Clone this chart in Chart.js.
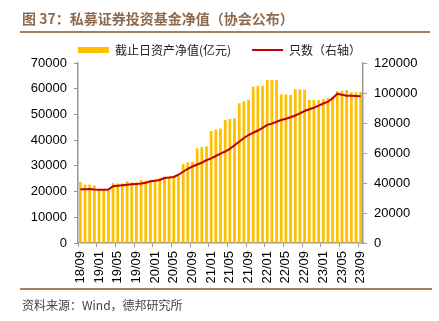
<!DOCTYPE html>
<html>
<head>
<meta charset="utf-8">
<script src="https://cdn.jsdelivr.net/npm/chart.js@4"></script>
<style>
  body { margin: 0; background: #fff; }
  #wrap { position: relative; width: 439px; height: 321px; overflow: hidden; }
  #c { position: absolute; left: 0; top: 0; }
  .title { position: absolute; left: 22px; top: 10px; font: bold 14px/17px "Noto Sans CJK SC", sans-serif; color: #8e6a4e; white-space: nowrap; }
  .rule { position: absolute; left: 20px; height: 2px; background: #a97e5a; }
  .source { position: absolute; left: 22px; top: 298px; font: 12px/14px "Noto Sans CJK SC", sans-serif; color: #444; white-space: nowrap; }
</style>
</head>
<body>
<div id="wrap">
  <canvas id="c" width="439" height="321"></canvas>
  <div class="title">图 37：私募证券投资基金净值（协会公布）</div>
  <div class="rule" style="top:31px;width:410px"></div>
  <div class="rule" style="top:288px;width:412px"></div>
  <div class="source">资料来源：Wind，德邦研究所</div>
</div>
<script>
// =========================
// DATA
// =========================
const months = [
  "18/09","18/10","18/11","18/12",
  "19/01","19/02","19/03","19/04","19/05","19/06","19/07","19/08","19/09","19/10","19/11","19/12",
  "20/01","20/02","20/03","20/04","20/05","20/06","20/07","20/08","20/09","20/10","20/11","20/12",
  "21/01","21/02","21/03","21/04","21/05","21/06","21/07","21/08","21/09","21/10","21/11","21/12",
  "22/01","22/02","22/03","22/04","22/05","22/06","22/07","22/08","22/09","22/10","22/11","22/12",
  "23/01","23/02","23/03","23/04","23/05","23/06","23/07","23/08","23/09"
];

// 截止日资产净值(亿元)
const netAsset = [
  23700, 22700, 22700, 22400,
  20800, 20700, 20800, 23300, 23200, 23200, 24000, 23500, 23500, 24500, 24300, 24300,
  24800, 25300, 25800, 25800, 25800, 26300, 30700, 31400, 31600, 36800, 37300, 37600,
  43600, 44100, 44500, 47800, 48200, 48500, 54300, 55100, 55700, 60800, 61100, 61200,
  63400, 63400, 63400, 57800, 57800, 57600, 59800, 59800, 59600, 55600, 55600, 55600,
  56000, 56300, 56900, 59100, 59200, 59500, 58600, 58600, 58700
];

// 只数（右轴）
const fundCount = [
  35900, 35900, 36000, 35700,
  35500, 35500, 35600, 37800, 38200, 38500, 38800, 39100, 39400, 39700, 40200, 41100,
  41500, 42000, 43300, 43600, 44000, 45500, 47500, 49500, 51000, 52300, 53500, 55200,
  56400, 58000, 59600, 61000, 62800, 65200, 67500, 70000, 72000, 73500, 75000, 76800,
  78700, 79600, 80800, 82000, 82800, 83800, 85000, 86400, 88000, 89200, 90200, 91600,
  93000, 94200, 96500, 99500, 98800, 98200, 98200, 98000, 97800
];

const leftTicks = { min: 0, max: 70000, step: 10000 };
const rightTicks = { min: 0, max: 120000, step: 20000 };

// =========================
// CHART
// =========================
Chart.defaults.font.family = "'Liberation Sans', Arial, sans-serif";
Chart.defaults.color = "#000";

const axisGrey = "#999";
const plain = v => String(v);

new Chart(document.getElementById("c"), {
  type: "bar",
  data: {
    labels: months,
    datasets: [
      {
        label: "截止日资产净值(亿元)",
        data: netAsset,
        backgroundColor: "#FFC000",
        borderWidth: 0,
        categoryPercentage: 1,
        barPercentage: 0.6,
        yAxisID: "y",
        pointStyle: "rect",
        order: 2
      },
      {
        type: "line",
        label: "只数（右轴）",
        data: fundCount,
        borderColor: "#C00000",
        backgroundColor: "#C00000",
        borderWidth: 2,
        pointRadius: 0,
        tension: 0,
        yAxisID: "y1",
        pointStyle: "line",
        order: 1
      }
    ]
  },
  options: {
    responsive: false,
    animation: false,
    devicePixelRatio: 1,
    layout: { padding: { top: 23, left: 0, right: 0, bottom: 0 } },
    plugins: {
      tooltip: { enabled: false },
      legend: {
        position: "top",
        maxHeight: 40,
        labels: {
          usePointStyle: true,
          pointStyleWidth: 31,
          boxHeight: 6,
          padding: 21,
          color: "#222",
          font: { family: "'Noto Sans CJK SC', sans-serif", size: 12 },
          sort: (a, b) => a.datasetIndex - b.datasetIndex
        }
      }
    },
    scales: {
      x: {
        offset: true,
        grid: {
          offset: true,
          drawOnChartArea: false,
          tickLength: 4,
          color: c => (c.index % 4 === 0 ? axisGrey : "rgba(0,0,0,0)")
        },
        border: { color: axisGrey, width: 1.5 },
        ticks: {
          autoSkip: false,
          maxRotation: 90,
          minRotation: 90,
          padding: 4,
          font: { size: 13 },
          callback: function(value, index){
            return index % 4 === 0 ? months[index] : "";
          }
        },
        afterFit: s => { s.height = 78; }
      },
      y: {
        position: "left",
        min: leftTicks.min,
        max: leftTicks.max,
        grid: { drawOnChartArea: false, tickLength: 4, color: axisGrey },
        border: { color: axisGrey, width: 1.5 },
        ticks: { stepSize: leftTicks.step, padding: 7, font: { size: 13 }, callback: plain },
        afterFit: s => { s.width = 78; }
      },
      y1: {
        position: "right",
        min: rightTicks.min,
        max: rightTicks.max,
        grid: { drawOnChartArea: false, tickLength: 4, color: axisGrey },
        border: { color: axisGrey, width: 1.5 },
        ticks: { stepSize: rightTicks.step, padding: 7, font: { size: 13 }, callback: plain },
        afterFit: s => { s.width = 76; }
      }
    }
  }
});
</script>
</body>
</html>
